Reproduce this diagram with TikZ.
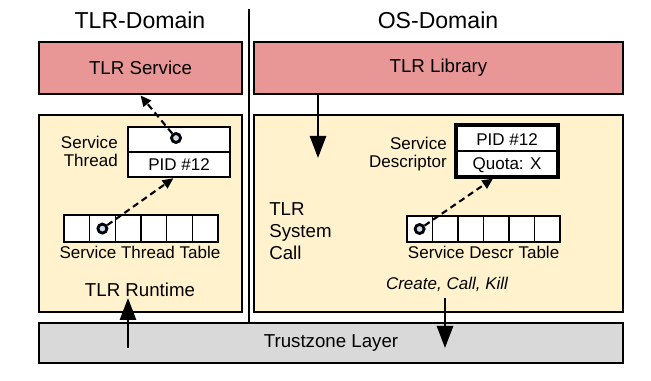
\documentclass[tikz,border=0pt]{standalone}
\usepackage{fontspec}
\setmainfont{Liberation Sans}
\usetikzlibrary{arrows.meta}
\definecolor{tlrred}{RGB}{232,150,150}
\definecolor{tlryellow}{RGB}{255,242,204}
\definecolor{tlrgray}{RGB}{217,217,217}
\definecolor{tlrblue}{RGB}{200,220,240}
\begin{document}
\begin{tikzpicture}[
    layer/.style={draw,line width=2.1pt,inner sep=0pt,font=\fontsize{13.3}{16}\selectfont},
    small/.style={font=\fontsize{12.1}{12.8}\selectfont,inner sep=0pt},
    entry/.style={draw,line width=1.8pt,fill=white,inner sep=0pt},
    slot/.style={draw,circle,line width=2pt,fill=tlrblue,minimum size=0.225cm,inner sep=0pt},
    link/.style={dash pattern=on 4.5pt off 3pt,line width=1.5pt,-{Triangle[length=0.27cm,width=0.24cm]}},
    call/.style={line width=1.9pt,-{Triangle[length=0.55cm,width=0.4cm]}}
]
    \useasboundingbox (0,0) rectangle (16.275,9.525);
    %% Domains
    \node[font=\fontsize{16.4}{19}\selectfont] (tlrdom) at (3.5,9.025) {TLR-Domain};
    \node[font=\fontsize{16.4}{19}\selectfont] (osdom) at (10.95,9.025) {OS-Domain};
    \draw[line width=1.4pt] (6.225,9.3) -- (6.225,1.45);
    %% Layers
    \node[layer,fill=tlrred,minimum width=5.075cm,minimum height=1.3cm] (svc) at (3.5125,7.825) {TLR Service};
    \node[layer,fill=tlrred,minimum width=9.225cm,minimum height=1.3cm] (lib) at (10.9625,7.825) {TLR Library};
    \node[layer,fill=tlryellow,minimum width=5.075cm,minimum height=4.925cm] (rt) at (3.5125,4.1875) {};
    \node[layer,fill=tlryellow,minimum width=9.225cm,minimum height=4.925cm] (sys) at (10.9625,4.1875) {};
    \node[layer,fill=tlrgray,minimum width=14.6cm,minimum height=1cm] (tz) at (8.275,0.95) {Trustzone Layer};
    %% Service thread
    \node[entry,minimum width=2.55cm,minimum height=1.25cm] (thr) at (4.475,5.725) {};
    \draw[line width=0.8pt] (thr.west) -- (thr.east);
    \node[small] (thrpid) at (4.475,5.4) {PID \#12};
    \node[slot] (thrslot) at (4.4,6.075) {};
    \node[small,anchor=east,align=right] (thrlbl) at (2.95,5.75) {Service\\Thread};
    %% Service descriptor
    \node[entry,line width=2.2pt,minimum width=2.55cm,minimum height=1.3cm] (desc) at (12.675,5.75) {};
    \draw[line width=0.8pt] (desc.west) -- (desc.east);
    \node[small] (descpid) at (12.675,6.04) {PID \#12};
    \node[small] (descquota) at (12.675,5.4) {Quota: X};
    \node[small,anchor=east,align=right] (desclbl) at (11.175,5.675) {Service\\Descriptor};
    %% Tables
    \node[entry,minimum width=3.85cm,minimum height=0.675cm] (stt) at (3.525,3.8125) {};
    \foreach \i in {1,...,5}
        \draw[line width=0.9pt] ({1.6+\i*3.85/6},3.475) -- ++(0,0.675);
    \node[slot] (sttslot) at (2.56,3.81) {};
    \node[small] (sttlbl) at (3.5,3.225) {Service Thread Table};
    \node[entry,minimum width=3.825cm,minimum height=0.65cm] (sdt) at (12.0875,3.8) {};
    \foreach \i in {1,...,5}
        \draw[line width=0.9pt] ({10.175+\i*3.825/6},3.475) -- ++(0,0.65);
    \node[slot] (sdtslot) at (10.49,3.8) {};
    \node[small] (sdtlbl) at (12.09,3.225) {Service Descr Table};
    %% Labels
    \node[font=\fontsize{13.3}{15.6}\selectfont,anchor=west,align=left,inner sep=0pt] (syscall) at (6.725,3.75) {TLR\\System\\Call};
    \node[font=\fontsize{13.3}{16}\selectfont] (rtlbl) at (3.5,2.275) {TLR Runtime};
    \node[small,font=\fontsize{12.1}{14}\selectfont\itshape] (ops) at (11.175,2.425) {Create, Call, Kill};
    %% Links
    \draw[link] (thrslot) -- (svc.south);
    \draw[link] (sttslot) -- ([xshift=-4pt]thr.south);
    \draw[link] (sdtslot) -- ([xshift=-0.35cm]desc.south);
    %% Calls
    \coordinate (libend) at (7.95,5.575);
    \coordinate (tzend) at (11.125,0.825);
    \coordinate (tzstart) at (3.2,0.825);
    \coordinate (rtend) at (3.2,2.075);
    \draw[call] (lib.south -| libend) -- (libend);
    \draw[call] (11.125,2.075) -- (tzend);
    \draw[call] (tzstart) -- (rtend);
\end{tikzpicture}
\end{document}
